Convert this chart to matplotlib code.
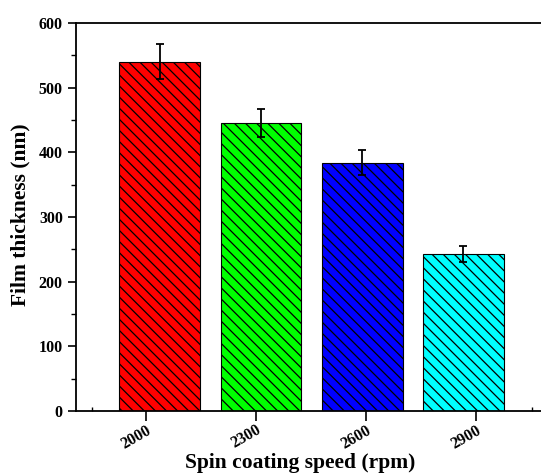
import matplotlib
matplotlib.use("Agg")
import matplotlib.pyplot as plt
import numpy as np

categories = ["2000", "2300", "2600", "2900"]
thickness = [540, 445, 384, 243]
errors = [27, 22, 19, 12]
colors = ["#FF0000", "#00FF00", "#0000FF", "#00FFFF"]

plt.rcParams['font.family'] = ['Liberation Serif', 'DejaVu Serif']
plt.rcParams['font.weight'] = 'bold'
plt.rcParams['hatch.linewidth'] = 0.9

fig = plt.figure(figsize=(5.41, 4.75), dpi=100)
ax = fig.add_axes([76/541, (475-411)/475, 1 - 76/541, (411-23)/475])

x = np.arange(len(categories))
ax.bar(x, thickness, width=0.8, color=colors, edgecolor='black', linewidth=0.8,
       hatch=chr(92) * 3, zorder=2)
ax.errorbar(x, thickness, yerr=errors, fmt='none', ecolor='black',
            elinewidth=1.3, capsize=3, capthick=1.3, zorder=3)

ax.set_xlim(-0.83, 3.77)
ax.set_ylim(0, 600)
tick_pos = -0.14 + 1.09 * x
ax.set_xticks(tick_pos)
ax.set_xticklabels(categories, rotation=30, ha='right', va='top',
                   rotation_mode='anchor', fontsize=11.5, fontweight='bold')
ax.set_xticks([-0.67, 3.68], minor=True)
ax.set_yticks(np.arange(0, 601, 100))
ax.set_yticks(np.arange(50, 600, 100), minor=True)
ax.tick_params(axis='y', which='major', direction='out', length=6, width=1.2,
               labelsize=11.5)
ax.tick_params(axis='y', which='minor', direction='out', length=3.5, width=1.0)
ax.tick_params(axis='x', which='major', direction='inout', length=14, width=1.2,
               pad=1)
ax.tick_params(axis='x', which='minor', direction='in', length=3, width=1.0)
for lab in ax.get_yticklabels():
    lab.set_fontweight('bold')

ax.spines['right'].set_visible(False)
for s in ['left', 'bottom', 'top']:
    ax.spines[s].set_linewidth(1.3)

ax.set_xlabel("Spin coating speed (rpm)", fontsize=15.5, fontweight='bold')
ax.xaxis.set_label_coords(0.482, -0.134)
ax.xaxis.label.set_va('center')
ax.set_ylabel("Film thickness (nm)", fontsize=15.5, fontweight='bold')
ax.yaxis.set_label_coords(-0.12, 0.505)
ax.yaxis.label.set_va('center')

fig.savefig("out.png", dpi=100)
